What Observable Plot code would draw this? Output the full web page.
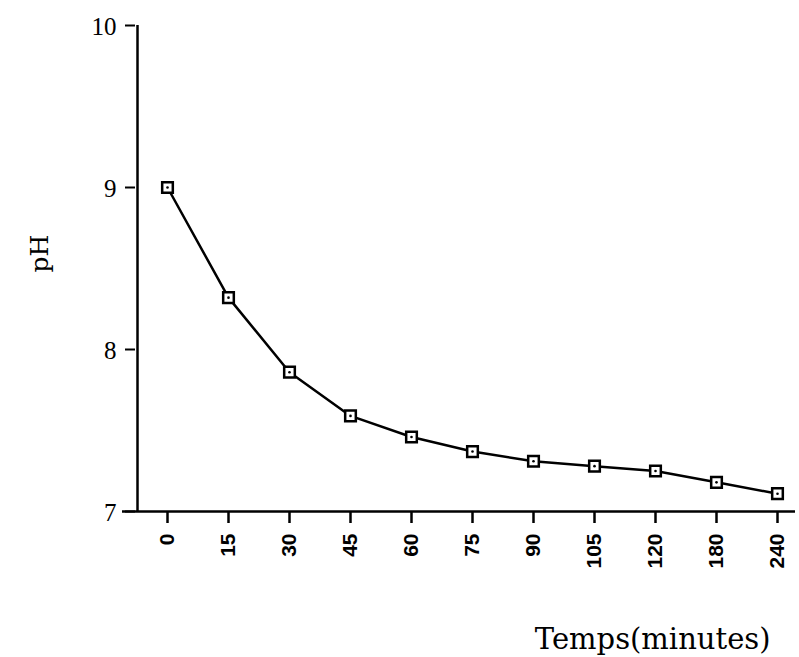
<!DOCTYPE html>
<html>
<head>
<meta charset="utf-8">
<script src="https://cdn.jsdelivr.net/npm/d3@7"></script>
<script src="https://cdn.jsdelivr.net/npm/@observablehq/plot@0.6"></script>
<style>
  html, body { margin: 0; padding: 0; background: #fff; }
</style>
</head>
<body>
<div id="chart"></div>
<script>
const times = ["0", "15", "30", "45", "60", "75", "90", "105", "120", "180", "240"];
const phValues = [9.0, 8.32, 7.86, 7.59, 7.46, 7.37, 7.31, 7.28, 7.25, 7.18, 7.11];
const yTicks = [7, 8, 9, 10];
const xLabel = "Temps(minutes)";
const yLabel = "pH";

const data = times.map((t, i) => ({t, ph: phValues[i]}));
const serif = "'Liberation Serif', 'DejaVu Serif', serif";
const wideSerif = "'DejaVu Serif', serif";
const sans = "'Liberation Sans', Arial, sans-serif";

const chart = Plot.plot({
  width: 799,
  height: 657,
  marginLeft: 135,
  marginRight: 21,
  marginTop: 25,
  marginBottom: 146,
  insetLeft: 30,
  style: {background: "#fff", color: "#000"},
  x: {type: "point", domain: times, padding: 0},
  y: {domain: [7, 10]},
  marks: [
    Plot.axisY({ticks: yTicks, tickSize: 10, text: null, label: null, strokeWidth: 2}),
    Plot.axisX({tickSize: 12, text: null, label: null, strokeWidth: 2.5}),
    Plot.text(yTicks, {y: d => d, frameAnchor: "left", textAnchor: "end", dx: -19, dy: 1,
      text: d => String(d), fontSize: 25, fontFamily: serif}),
    Plot.text(times, {x: d => d, frameAnchor: "bottom", rotate: -90, textAnchor: "end",
      lineAnchor: "middle", dy: 22, text: d => d, fontSize: 21, fontFamily: sans, fontWeight: "bold"}),
    Plot.ruleY([7], {strokeWidth: 2.5, insetLeft: -13, insetRight: -17}),
    Plot.ruleX([0], {x: () => times[0], dx: -30, y1: 7, y2: 10, strokeWidth: 2.5}),
    Plot.line(data, {x: "t", y: "ph", stroke: "#000", strokeWidth: 2.5}),
    Plot.dot(data, {x: "t", y: "ph", symbol: "square", r: 6, fill: "#fff", stroke: "#000", strokeWidth: 2.5}),
    Plot.dot(data, {x: "t", y: "ph", r: 1.3, fill: "#000"}),
    Plot.text([yLabel], {frameAnchor: "left", dx: -96, dy: 4, rotate: -90, fontSize: 25, fontFamily: wideSerif}),
    Plot.text([xLabel], {frameAnchor: "bottom-right", textAnchor: "end", lineAnchor: "bottom",
      dx: -8, dy: 137, fontSize: 29, fontFamily: wideSerif})
  ]
});
document.getElementById("chart").appendChild(chart);
</script>
</body>
</html>
